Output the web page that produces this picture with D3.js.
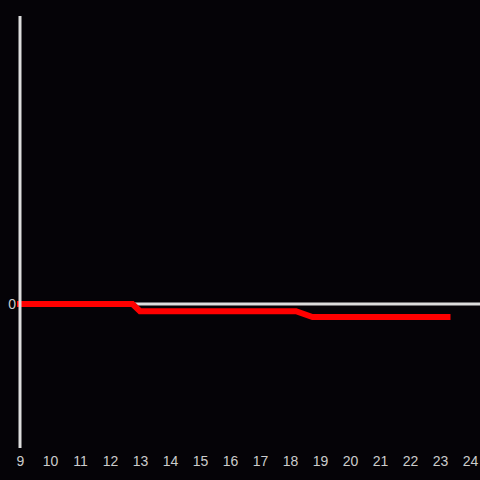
<!DOCTYPE html>
<html>
<head>
<meta charset="utf-8">
<script src="https://cdn.jsdelivr.net/npm/d3@7"></script>
<style>
  html, body { margin: 0; padding: 0; background: #050307; }
  svg { display: block; }
</style>
</head>
<body>
<div id="chart"></div>
<script>
const hours = [9, 12.75, 13.0, 18.2, 18.75, 23.25]
const values = [0, 0, -0.05, -0.05, -0.09, -0.09]
const xTicks = d3.range(9, 25)
const yTicks = [0]

let width = 480
let height = 480

const svg = d3.select("#chart")
    .append("svg")
    .attr("width", width)
    .attr("height", height)

svg.append("rect")
    .attr("width", width)
    .attr("height", height)
    .attr("fill", "#050307")

const x = d3.scaleLinear().domain([9, 24]).range([20, 470])
const y = d3.scaleLinear().domain([-1, 2]).range([448, 16])

const points = hours.map((h, i) => ({ h: h, v: values[i] }))

// zero line
svg.append("line")
    .attr("x1", x(9)).attr("x2", width)
    .attr("y1", y(0)).attr("y2", y(0))
    .attr("stroke", "#dddddd")
    .attr("stroke-width", 3)

// the series
const line = d3.line()
    .x(d => x(d.h))
    .y(d => y(d.v))

svg.append("path")
    .datum(points)
    .attr("d", line)
    .attr("fill", "none")
    .attr("stroke", "#ff0000")
    .attr("stroke-width", 6)
    .attr("stroke-linecap", "square")

// y axis
const yAxis = svg.append("g")
    .attr("transform", "translate(" + x(9) + ",0)")
    .call(d3.axisLeft(y).tickValues(yTicks).tickFormat(d3.format("d")).tickSize(0).tickPadding(4))
yAxis.select(".domain")
    .attr("stroke", "#dddddd")
    .attr("stroke-width", 3)
    .attr("d", "M0," + y(-1) + "V" + y(2))
yAxis.selectAll("text")
    .attr("fill", "#cccccc")
    .style("font-family", "'Liberation Sans', Arial, sans-serif")
    .style("font-size", "14px")

// x tick labels
const xAxis = svg.append("g")
    .attr("transform", "translate(0," + (y(-1) + 4) + ")")
    .call(d3.axisBottom(x).tickValues(xTicks).tickFormat(d3.format("d")).tickSize(0).tickPadding(4))
xAxis.select(".domain").remove()
xAxis.selectAll("text")
    .attr("fill", "#cccccc")
    .style("font-family", "'Liberation Sans', Arial, sans-serif")
    .style("font-size", "14px")
</script>
</body>
</html>
